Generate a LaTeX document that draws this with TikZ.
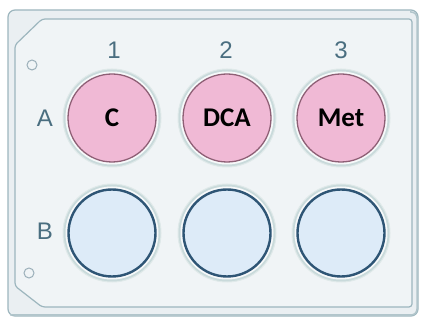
\documentclass[tikz,border=0pt]{standalone}
\usepackage{fontspec}
\setmainfont{Liberation Sans}
\newfontfamily\wellfont{Carlito}
\begin{document}
\begin{tikzpicture}[x=1pt,y=-1pt,
  plate/.style={draw=plateline,line width=1.2pt},
  halo/.style={circle,minimum size=98pt,inner sep=0pt,fill=halocol,draw=halocol!60!white,line width=1pt},
  whitering/.style={circle,minimum size=93pt,inner sep=0pt,fill=white!85!halocol},
  pinkwell/.style={circle,minimum size=88pt,inner sep=0pt,fill=pinkfill,draw=pinkline,line width=1.3pt,font=\wellfont\bfseries\fontsize{27}{27}\selectfont},
  bluewell/.style={circle,minimum size=87pt,inner sep=0pt,fill=bluefill,draw=blueline,line width=2.4pt},
  lbl/.style={text=lblcol,font=\fontsize{24}{24}\selectfont,inner sep=0pt},
  hole/.style={circle,minimum size=10pt,inner sep=0pt,draw=lblcol!55!white,line width=1pt}
]
\definecolor{platebg}{HTML}{EAEFF2}
\definecolor{plateline}{HTML}{9DB6BE}
\definecolor{halocol}{HTML}{C9DADB}
\definecolor{pinkfill}{HTML}{F0B9D5}
\definecolor{pinkline}{HTML}{8E5F75}
\definecolor{bluefill}{HTML}{DDEBF8}
\definecolor{blueline}{HTML}{2E5575}
\definecolor{lblcol}{HTML}{4A6E80}
\useasboundingbox (0,0) rectangle (423,320);
\fill[white] (0,0) rectangle (423,320);
% outer plate
\draw[plate,fill=platebg,rounded corners=7pt] (8,10) rectangle (418,316);
\draw[plateline!80!white,line width=1.5pt,rounded corners=6pt] (410,12) -- (417,12) -- (417,315) -- (10,315);
% inner plate
\draw[plate,fill=platebg!70!white,rounded corners=3pt] (15,45) -- (42,19) -- (412,19) -- (412,307) -- (42,307) -- (15,286) -- cycle;
% holes
\node[hole] (h1) at (32,65) {};
\node[hole] (h2) at (29,273) {};
% column & row labels
\node[lbl] (c1) at (114,50) {1};
\node[lbl] (c2) at (226,50) {2};
\node[lbl] (c3) at (341,50) {3};
\node[lbl] (rA) at (45,118) {A};
\node[lbl] (rB) at (45,231) {B};
% wells row A
\foreach \x/\n/\t in {112/a1/C,227/a2/DCA,341/a3/Met}{
  \node[halo] (\n h) at (\x,118) {};
  \node[whitering] (\n r) at (\x,118) {};
  \node[pinkwell] (\n) at (\x,118) {\t};
}
% wells row B
\foreach \x/\n in {112/b1,227/b2,341/b3}{
  \node[halo] (\n h) at (\x,233) {};
  \node[whitering] (\n r) at (\x,233) {};
  \node[bluewell] (\n) at (\x,233) {};
}
\end{tikzpicture}
\end{document}
